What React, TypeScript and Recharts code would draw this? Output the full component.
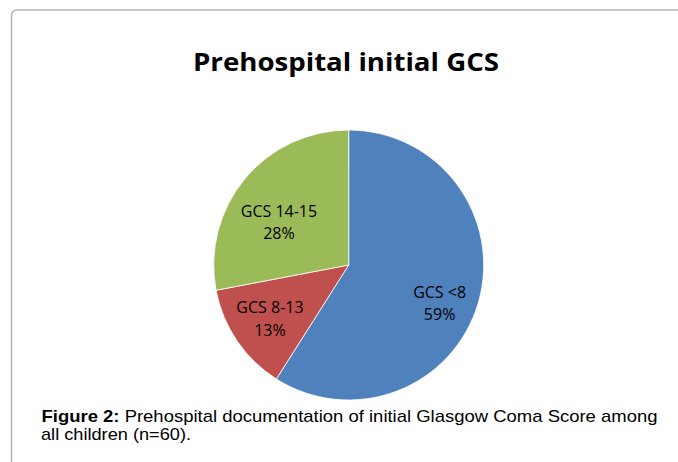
import React from "react";
import { PieChart, Pie, Cell } from "recharts";

const categories = ["GCS <8", "GCS 8-13", "GCS 14-15"];
const percentages = [59, 13, 28];
const colors = ["#4F81BD", "#C0504D", "#9BBB59"];
const titleText = "Prehospital initial GCS";
const captionBold = "Figure 2:";
const captionLine1 = " Prehospital documentation of initial Glasgow Coma Score among";
const captionLine2 = "all children (n=60).";

const data = categories.map((name, i) => ({ name, value: percentages[i] }));

// label placement tweaks (style, not data)
const labelRadiusFrac = [0.73, 0.705, 0.607];
const labelAngleOffset = [-6.5, 0, 7.9];
const RADIAN = Math.PI / 180;

const renderLabel = (props: any) => {
  const { cx, cy, midAngle, outerRadius, index, name, value } = props;
  const ang = midAngle + labelAngleOffset[index];
  const r = outerRadius * labelRadiusFrac[index];
  const x = cx + r * Math.cos(-ang * RADIAN);
  const y = cy + r * Math.sin(-ang * RADIAN);
  return (
    <g>
      <text x={x} y={y - 11.3} textAnchor="middle" dominantBaseline="central" fontFamily="'Open Sans'" fontSize={16} fill="#000">
        {name}
      </text>
      <text x={x} y={y + 11.3} textAnchor="middle" dominantBaseline="central" fontFamily="'Open Sans'" fontSize={16} fill="#000">
        {`${value}%`}
      </text>
    </g>
  );
};

export default function App() {
  return (
    <div style={{ position: "absolute", left: 0, top: 0, width: 678, height: 462, background: "#fff", overflow: "hidden" }}>
      <div style={{ position: "absolute", left: 0, top: 0 }}>
        <PieChart width={678} height={462} margin={{ top: 0, right: 0, bottom: 0, left: 0 }}>
          <Pie
            data={data}
            dataKey="value"
            nameKey="name"
            cx={348.7}
            cy={265}
            outerRadius={135}
            startAngle={90}
            endAngle={-270}
            stroke="#ffffff"
            strokeWidth={0.8}
            isAnimationActive={false}
            label={renderLabel}
            labelLine={false}
          >
            {data.map((d, i) => (
              <Cell key={d.name} fill={colors[i]} />
            ))}
          </Pie>
        </PieChart>
      </div>
      <svg width={678} height={462} style={{ position: "absolute", left: 0, top: 0, pointerEvents: "none" }}>
        <path d="M 11.5 462 L 11.5 16 Q 11.5 10 17.5 10 L 678 10" fill="none" stroke="#b4b4b4" strokeWidth={1.5} />
        <text x={346} y={71} textAnchor="middle" fontFamily="'Open Sans'" fontWeight={700} fontSize={25} fill="#000" textLength={306} lengthAdjust="spacingAndGlyphs">
          {titleText}
        </text>
        <text x={41.5} y={422} fontFamily="'Liberation Sans', Arial, sans-serif" fontSize={17} fill="#000" textLength={616} lengthAdjust="spacingAndGlyphs">
          <tspan fontWeight={700}>{captionBold}</tspan>
          <tspan>{captionLine1}</tspan>
        </text>
        <text x={41} y={440} fontFamily="'Liberation Sans', Arial, sans-serif" fontSize={17} fill="#000" textLength={150} lengthAdjust="spacingAndGlyphs">
          {captionLine2}
        </text>
      </svg>
    </div>
  );
}
